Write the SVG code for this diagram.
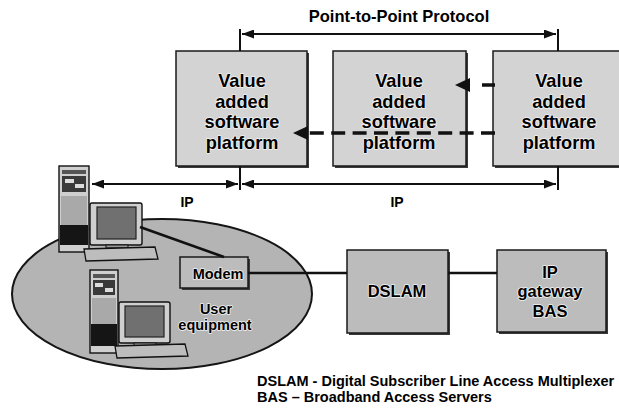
<svg xmlns="http://www.w3.org/2000/svg" width="619" height="410" viewBox="0 0 619 410">
  <style>
    .lbl { font-family: "Liberation Sans", Arial, sans-serif; font-weight: bold; fill: #000; text-anchor: middle; }
    .halo { stroke: #f2f2f2; stroke-width: 1.6; paint-order: stroke; stroke-linejoin: round; }
    .vas { fill: #d3d3d3; stroke: #1a1a1a; stroke-width: 1.5; }
    .box { fill: #bcbcbc; stroke: #1a1a1a; stroke-width: 1.5; }
    .shadow { fill: #3a3a3a; }
    .solid { stroke: #111; stroke-width: 2; fill: none; }
    .wire { stroke: #111; stroke-width: 2.6; fill: none; }
    .dash { stroke: #111; stroke-width: 3.5; fill: none; }
    .case { fill: #cfcfcf; stroke: #111; stroke-width: 1.4; }
    .screen { fill: #707070; stroke: #222; stroke-width: 1.2; }
    .dark { fill: #151515; }
    .legend { font-family: "Liberation Sans", Arial, sans-serif; font-weight: bold; font-size: 14.5px; fill: #000; }
  </style>
  <defs>
    <marker id="tip" markerUnits="userSpaceOnUse" markerWidth="12" markerHeight="9" refX="12" refY="4.5" orient="auto-start-reverse">
      <path d="M0,0 L12,4.5 L0,9 z" fill="#111"/>
    </marker>
    <marker id="bigtip" markerUnits="userSpaceOnUse" markerWidth="15" markerHeight="14" refX="0" refY="7" orient="auto">
      <path d="M0,0 L15,7 L0,14 z" fill="#111"/>
    </marker>
  </defs>

  <rect width="619" height="410" fill="#fff"/>

  <!-- protocol span label -->
  <text class="lbl" x="399" y="22" font-size="16.5">Point-to-Point Protocol</text>

  <!-- value added software platforms -->
  <g id="vasp1">
    <rect class="shadow" x="178" y="53" width="131" height="115"/>
    <rect class="vas" x="176" y="51" width="131" height="115"/>
    <g class="lbl halo" font-size="18.2">
      <text x="242" y="87">Value</text>
      <text x="242" y="107.5">added</text>
      <text x="242" y="128">software</text>
      <text x="242" y="148.5">platform</text>
    </g>
  </g>
  <g id="vasp2">
    <rect class="shadow" x="335" y="53" width="133" height="115"/>
    <rect class="vas" x="333" y="51" width="133" height="115"/>
    <g class="lbl halo" font-size="18.2">
      <text x="399" y="87">Value</text>
      <text x="399" y="107.5">added</text>
      <text x="399" y="128">software</text>
      <text x="399" y="148.5">platform</text>
    </g>
  </g>
  <g id="vasp3">
    <rect class="shadow" x="495" y="53" width="132" height="115"/>
    <rect class="vas" x="493" y="51" width="132" height="115" fill="#c9c9c9"/>
    <g class="lbl halo" font-size="18.2">
      <text x="559" y="87">Value</text>
      <text x="559" y="107.5">added</text>
      <text x="559" y="128">software</text>
      <text x="559" y="148.5">platform</text>
    </g>
  </g>

  <!-- user equipment: ellipse, two workstations -->
  <g id="user-equipment">
    <ellipse cx="162" cy="294" rx="150" ry="75" fill="#b4b4b4" stroke="#151515" stroke-width="2"/>
    <text class="lbl halo" x="216" y="314" font-size="14.5">User</text>
    <text class="lbl halo" x="215" y="330" font-size="14.5">equipment</text>

    <!-- workstation 1 -->
    <g id="pc1">
      <rect class="case" x="59" y="166" width="30" height="86"/>
      <rect x="62" y="170" width="24" height="4" fill="#555"/>
      <rect x="62" y="176" width="24" height="16" fill="#3a3a3a"/>
      <rect x="65" y="179" width="9" height="4" fill="#ddd"/>
      <rect x="75" y="184" width="9" height="4" fill="#ddd"/>
      <rect x="61" y="196" width="26" height="29" fill="#a9a9a9"/>
      <rect class="dark" x="60" y="225" width="28" height="20"/>
      <rect class="case" x="90" y="203" width="52" height="42" rx="2"/>
      <rect class="screen" x="97" y="207" width="39" height="32"/>
      <rect x="106" y="245" width="22" height="3" fill="#999" stroke="#111" stroke-width="1"/>
      <polygon points="84,249 155,247 158,259 86,261" fill="#bdbdbd" stroke="#111" stroke-width="1.3"/>
    </g>

    <!-- workstation 2 -->
    <g id="pc2">
      <rect class="case" x="90" y="270" width="28" height="83"/>
      <rect x="93" y="274" width="22" height="4" fill="#555"/>
      <rect x="93" y="280" width="22" height="15" fill="#3a3a3a"/>
      <rect x="95" y="283" width="8" height="4" fill="#ddd"/>
      <rect x="105" y="288" width="8" height="4" fill="#ddd"/>
      <rect x="92" y="298" width="24" height="26" fill="#a9a9a9"/>
      <rect class="dark" x="91" y="324" width="26" height="22"/>
      <rect class="case" x="119" y="302" width="51" height="41" rx="2"/>
      <rect class="screen" x="125" y="306" width="39" height="31"/>
      <rect x="134" y="343" width="22" height="3" fill="#999" stroke="#111" stroke-width="1"/>
      <polygon points="115,346 185,344 188,356 117,358" fill="#bdbdbd" stroke="#111" stroke-width="1.3"/>
    </g>
  </g>

  <g id="modem">
    <rect class="shadow" x="182" y="259" width="68" height="31"/>
    <rect class="box" x="180" y="257" width="68" height="31" fill="#b0b0b0"/>
    <text class="lbl halo" x="218" y="278.5" font-size="14.5">Modem</text>
  </g>

  <g id="dslam">
    <rect class="shadow" x="349" y="252" width="101" height="83"/>
    <rect class="box" x="347" y="250" width="101" height="83"/>
    <text class="lbl halo" x="397" y="297" font-size="16.5">DSLAM</text>
  </g>

  <g id="bas">
    <rect class="shadow" x="499" y="252" width="109" height="82"/>
    <rect class="box" x="497" y="250" width="109" height="82"/>
    <g class="lbl halo" font-size="16.5">
      <text x="550" y="278">IP</text>
      <text x="550" y="297">gateway</text>
      <text x="550" y="317">BAS</text>
    </g>
  </g>

  <!-- connectors -->
  <g id="connectors">
    <!-- PPP span -->
    <line class="solid" x1="240" y1="29" x2="240" y2="51"/>
    <line class="solid" x1="558" y1="29" x2="558" y2="51"/>
    <line class="solid" x1="242" y1="34" x2="556" y2="34" marker-start="url(#tip)" marker-end="url(#tip)"/>
    <!-- IP spans -->
    <line class="solid" x1="240" y1="166" x2="240" y2="190"/>
    <line class="solid" x1="558" y1="166" x2="558" y2="190"/>
    <line class="solid" x1="92" y1="184" x2="238" y2="184" marker-start="url(#tip)" marker-end="url(#tip)"/>
    <line class="solid" x1="242" y1="184" x2="556" y2="184" marker-start="url(#tip)" marker-end="url(#tip)"/>
    <text class="lbl" x="187" y="207" font-size="14">IP</text>
    <text class="lbl" x="397" y="207" font-size="14">IP</text>
    <!-- dashed flows between platforms -->
    <line class="dash" x1="495" y1="85" x2="470" y2="85" stroke-dasharray="13 12" marker-end="url(#bigtip)"/>
    <line class="dash" x1="495" y1="133" x2="308" y2="133" stroke-dasharray="14 7.4" marker-end="url(#bigtip)"/>
    <!-- physical links -->
    <line class="wire" x1="140" y1="227" x2="224" y2="257"/>
    <line class="wire" x1="248" y1="273" x2="347" y2="273"/>
    <line class="wire" x1="448" y1="273" x2="497" y2="273"/>
  </g>

  <g id="legend">
    <text class="legend" x="257" y="386">DSLAM - Digital Subscriber Line Access Multiplexer</text>
    <text class="legend" x="257" y="402">BAS – Broadband Access Servers</text>
  </g>
</svg>
